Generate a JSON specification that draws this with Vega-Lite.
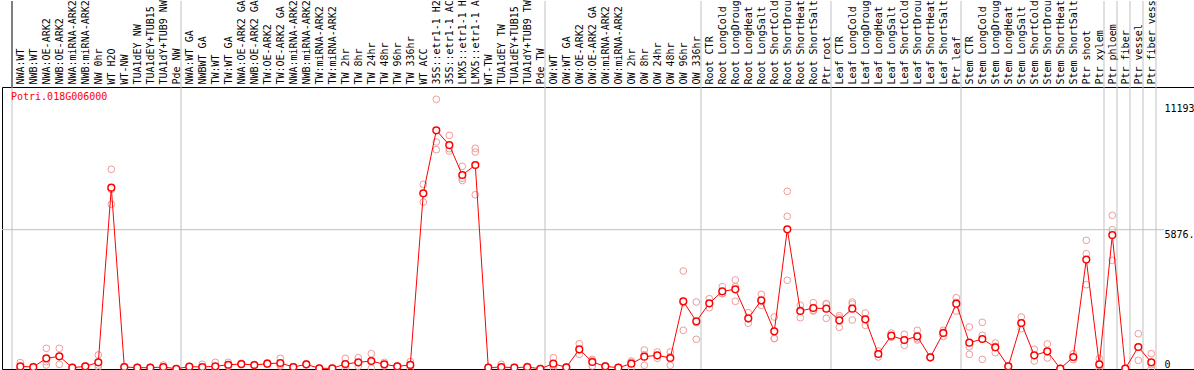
{
  "$schema": "https://vega.github.io/schema/vega-lite/v6.json",
  "padding": {"left": 1, "right": 1, "top": 0, "bottom": 2},
  "background": "white",
  "spacing": 0,
  "bounds": "flush",
  "config": {"view": {"stroke": "black", "strokeWidth": 1}, "font": "DejaVu Sans Mono"},
  "datasets": {
    "groups": [{"b": 0}, {"b": 13}, {"b": 41}, {"b": 53}, {"b": 63}, {"b": 73}, {"b": 84}, {"b": 85}, {"b": 86}, {"b": 87}, {"b": 88}],
    "samples": [
      {"i": 0, "label": "NWA:WT", "mean": 110, "r1": 270, "r2": 60, "r3": 0},
      {"i": 1, "label": "NWB:WT", "mean": 83, "r1": 60, "r2": 90, "r3": 100},
      {"i": 2, "label": "NWA:OE-ARK2", "mean": 450, "r1": 872, "r2": 310, "r3": 169},
      {"i": 3, "label": "NWB:OE-ARK2", "mean": 535, "r1": 872, "r2": 536, "r3": 197},
      {"i": 4, "label": "NWA:miRNA-ARK2", "mean": 55, "r1": 40, "r2": 60, "r3": 65},
      {"i": 5, "label": "NWB:miRNA-ARK2", "mean": 114, "r1": 90, "r2": 120, "r3": 132},
      {"i": 6, "label": "NW 0hr", "mean": 281, "r1": 591, "r2": 169, "r3": 83},
      {"i": 7, "label": "WT H2O", "mean": 7648, "r1": 8424, "r2": 7573, "r3": 6947},
      {"i": 8, "label": "WT-NW", "mean": 84, "r1": 60, "r2": 90, "r3": 102},
      {"i": 9, "label": "TUA1dEY NW", "mean": 55, "r1": 40, "r2": 55, "r3": 70},
      {"i": 10, "label": "TUA1dEY+TUB15", "mean": 55, "r1": 40, "r2": 60, "r3": 65},
      {"i": 11, "label": "TUA1dY+TUB9 NW", "mean": 84, "r1": 169, "r2": 50, "r3": 33},
      {"i": 12, "label": "Pde NW", "mean": 10, "r1": 5, "r2": 10, "r3": 15},
      {"i": 13, "label": "NWA:WT GA", "mean": 100, "r1": 110, "r2": 100, "r3": 90},
      {"i": 14, "label": "NWBWT GA", "mean": 84, "r1": 200, "r2": 30, "r3": 22},
      {"i": 15, "label": "TW:WT", "mean": 114, "r1": 283, "r2": 40, "r3": 19},
      {"i": 16, "label": "TW:WT GA", "mean": 180, "r1": 281, "r2": 150, "r3": 109},
      {"i": 17, "label": "NWA:OE-ARK2 GA", "mean": 210, "r1": 240, "r2": 210, "r3": 180},
      {"i": 18, "label": "NWB:OE-ARK2 GA", "mean": 169, "r1": 190, "r2": 170, "r3": 147},
      {"i": 19, "label": "TW:OE-ARK2", "mean": 225, "r1": 260, "r2": 220, "r3": 195},
      {"i": 20, "label": "TW:OE-ARK2 GA", "mean": 253, "r1": 450, "r2": 180, "r3": 129},
      {"i": 21, "label": "NWA:miRNA-ARK2", "mean": 84, "r1": 100, "r2": 84, "r3": 68},
      {"i": 22, "label": "NWB:miRNA-ARK2", "mean": 197, "r1": 230, "r2": 190, "r3": 171},
      {"i": 23, "label": "TW:miRNA-ARK2", "mean": 28, "r1": 40, "r2": 28, "r3": 16},
      {"i": 24, "label": "TW:miRNA-ARK2", "mean": 28, "r1": 40, "r2": 28, "r3": 16},
      {"i": 25, "label": "TW 2hr", "mean": 211, "r1": 450, "r2": 155, "r3": 28},
      {"i": 26, "label": "TW 8hr", "mean": 281, "r1": 478, "r2": 253, "r3": 112},
      {"i": 27, "label": "TW 24hr", "mean": 337, "r1": 647, "r2": 336, "r3": 28},
      {"i": 28, "label": "TW 48hr", "mean": 197, "r1": 281, "r2": 180, "r3": 130},
      {"i": 29, "label": "TW 96hr", "mean": 112, "r1": 130, "r2": 112, "r3": 94},
      {"i": 30, "label": "TW 336hr", "mean": 170, "r1": 309, "r2": 170, "r3": 31},
      {"i": 31, "label": "WT ACC", "mean": 7411, "r1": 7791, "r2": 7398, "r3": 7044},
      {"i": 32, "label": "35S::etr1-1 H2", "mean": 10068, "r1": 11376, "r2": 9575, "r3": 9253},
      {"i": 33, "label": "35S::etr1-1 AC", "mean": 9448, "r1": 9857, "r2": 9292, "r3": 9195},
      {"i": 34, "label": "LMX5::etr1-1 H", "mean": 8183, "r1": 8550, "r2": 8046, "r3": 7953},
      {"i": 35, "label": "LMX5::etr1-1 A", "mean": 8605, "r1": 9309, "r2": 9153, "r3": 7353},
      {"i": 36, "label": "WT-TW", "mean": 55, "r1": 70, "r2": 55, "r3": 40},
      {"i": 37, "label": "TUA1dEY TW", "mean": 84, "r1": 197, "r2": 35, "r3": 20},
      {"i": 38, "label": "TUA1dEY+TUB15", "mean": 55, "r1": 70, "r2": 55, "r3": 40},
      {"i": 39, "label": "TUA1dY+TUB9 TW", "mean": 84, "r1": 110, "r2": 84, "r3": 58},
      {"i": 40, "label": "Pde TW", "mean": 10, "r1": 15, "r2": 10, "r3": 5},
      {"i": 41, "label": "OW:WT", "mean": 225, "r1": 478, "r2": 142, "r3": 55},
      {"i": 42, "label": "OW:WT GA", "mean": 70, "r1": 90, "r2": 70, "r3": 50},
      {"i": 43, "label": "OW:OE-ARK2", "mean": 830, "r1": 1068, "r2": 803, "r3": 619},
      {"i": 44, "label": "OW:OE-ARK2 GA", "mean": 295, "r1": 408, "r2": 350, "r3": 127},
      {"i": 45, "label": "OW:miRNA-ARK2", "mean": 112, "r1": 140, "r2": 100, "r3": 96},
      {"i": 46, "label": "OW:miRNA-ARK2", "mean": 55, "r1": 70, "r2": 55, "r3": 40},
      {"i": 47, "label": "OW 2hr", "mean": 225, "r1": 337, "r2": 283, "r3": 55},
      {"i": 48, "label": "OW 8hr", "mean": 520, "r1": 802, "r2": 603, "r3": 155},
      {"i": 49, "label": "OW 24hr", "mean": 577, "r1": 717, "r2": 564, "r3": 450},
      {"i": 50, "label": "OW 48hr", "mean": 464, "r1": 717, "r2": 520, "r3": 155},
      {"i": 51, "label": "OW 96hr", "mean": 2855, "r1": 4134, "r2": 2799, "r3": 1632},
      {"i": 52, "label": "OW 336hr", "mean": 2011, "r1": 2826, "r2": 1955, "r3": 1252},
      {"i": 53, "label": "Root CTR", "mean": 2771, "r1": 2966, "r2": 2760, "r3": 2587},
      {"i": 54, "label": "Root LongCold", "mean": 3277, "r1": 3473, "r2": 3180, "r3": 3178},
      {"i": 55, "label": "Root LongDroug", "mean": 3361, "r1": 3754, "r2": 3474, "r3": 2855},
      {"i": 56, "label": "Root LongHeat", "mean": 2138, "r1": 2375, "r2": 2111, "r3": 1928},
      {"i": 57, "label": "Root LongSalt", "mean": 2898, "r1": 3150, "r2": 2857, "r3": 2687},
      {"i": 58, "label": "Root ShortCold", "mean": 1590, "r1": 2193, "r2": 1282, "r3": 1295},
      {"i": 59, "label": "Root ShortDrou", "mean": 5893, "r1": 7495, "r2": 6441, "r3": 3743},
      {"i": 60, "label": "Root ShortHeat", "mean": 2446, "r1": 2687, "r2": 2487, "r3": 2164},
      {"i": 61, "label": "Root ShortSalt", "mean": 2573, "r1": 2797, "r2": 2476, "r3": 2446},
      {"i": 62, "label": "Ptr root", "mean": 2545, "r1": 2755, "r2": 2742, "r3": 2138},
      {"i": 63, "label": "Leaf CTR", "mean": 2054, "r1": 2250, "r2": 2154, "r3": 1758},
      {"i": 64, "label": "Leaf LongCold", "mean": 2545, "r1": 2826, "r2": 2742, "r3": 2067},
      {"i": 65, "label": "Leaf LongDroug", "mean": 2096, "r1": 2362, "r2": 2083, "r3": 1843},
      {"i": 66, "label": "Leaf LongHeat", "mean": 633, "r1": 759, "r2": 634, "r3": 506},
      {"i": 67, "label": "Leaf LongSalt", "mean": 1406, "r1": 1518, "r2": 1350, "r3": 1350},
      {"i": 68, "label": "Leaf ShortCold", "mean": 1223, "r1": 1462, "r2": 1209, "r3": 998},
      {"i": 69, "label": "Leaf ShortDrou", "mean": 1378, "r1": 1631, "r2": 1280, "r3": 1223},
      {"i": 70, "label": "Leaf ShortHeat", "mean": 492, "r1": 520, "r2": 490, "r3": 466},
      {"i": 71, "label": "Leaf ShortSalt", "mean": 1518, "r1": 1631, "r2": 1545, "r3": 1378},
      {"i": 72, "label": "Ptr leaf", "mean": 2755, "r1": 3009, "r2": 2810, "r3": 2446},
      {"i": 73, "label": "Stem CTR", "mean": 1110, "r1": 1772, "r2": 939, "r3": 619},
      {"i": 74, "label": "Stem LongCold", "mean": 1265, "r1": 1968, "r2": 1420, "r3": 408},
      {"i": 75, "label": "Stem LongDroug", "mean": 914, "r1": 1097, "r2": 956, "r3": 689},
      {"i": 76, "label": "Stem LongHeat", "mean": 112, "r1": 140, "r2": 106, "r3": 90},
      {"i": 77, "label": "Stem LongSalt", "mean": 1940, "r1": 2193, "r2": 1926, "r3": 1701},
      {"i": 78, "label": "Stem ShortCold", "mean": 577, "r1": 830, "r2": 564, "r3": 337},
      {"i": 79, "label": "Stem ShortDrou", "mean": 745, "r1": 1054, "r2": 717, "r3": 464},
      {"i": 80, "label": "Stem ShortHeat", "mean": 14, "r1": 20, "r2": 12, "r3": 10},
      {"i": 81, "label": "Stem ShortSalt", "mean": 506, "r1": 647, "r2": 477, "r3": 394},
      {"i": 82, "label": "Ptr shoot", "mean": 4617, "r1": 5428, "r2": 4865, "r3": 3557},
      {"i": 83, "label": "Ptr xylem", "mean": 197, "r1": 436, "r2": 141, "r3": 14},
      {"i": 84, "label": "Ptr phloem", "mean": 5648, "r1": 6483, "r2": 5877, "r3": 4584},
      {"i": 85, "label": "Ptr fiber", "mean": 14, "r1": 40, "r2": 2, "r3": 0},
      {"i": 86, "label": "Ptr vessel", "mean": 928, "r1": 1490, "r2": 928, "r3": 366},
      {"i": 87, "label": "Ptr fiber vess", "mean": 281, "r1": 647, "r2": 182, "r3": 14}
    ]
  },
  "vconcat": [
    {
      "width": 1192,
      "height": 86,
      "view": {"stroke": null},
      "layer": [
        {
          "data": {"name": "groups"},
          "mark": {"type": "rule", "xOffset": -8.3, "strokeWidth": 1},
          "encoding": {
            "x": {"field": "b", "type": "quantitative", "scale": {"domain": [-1.408, 90.285], "nice": false, "zero": false}, "axis": null},
            "color": {"condition": {"test": "datum.b == 0", "value": "black"}, "value": "#c0c0c0"}
          }
        },
        {
          "data": {"name": "samples"},
          "mark": {"type": "text", "angle": 270, "align": "left", "baseline": "middle", "dx": 2.5, "dy": 1, "font": "DejaVu Sans Mono", "fontSize": 10, "color": "black"},
          "encoding": {
            "x": {"field": "i", "type": "quantitative", "scale": {"domain": [-1.408, 90.285], "nice": false, "zero": false}, "axis": null},
            "y": {"value": "height"},
            "text": {"field": "label", "type": "nominal"}
          }
        }
      ]
    },
    {
      "width": 1192,
      "height": 282,
      "title": {"text": "Potri.018G006000", "anchor": "start", "frame": "group", "orient": "top", "offset": -15, "baseline": "top", "dx": 9, "color": "#ff0000", "font": "DejaVu Sans Mono", "fontSize": 10, "fontWeight": "normal"},
      "layer": [
        {
          "data": {"name": "groups"},
          "mark": {"type": "rule", "xOffset": -8.3, "strokeWidth": 1, "color": "#c0c0c0"},
          "encoding": {
            "x": {"field": "b", "type": "quantitative", "scale": {"domain": [-1.408, 90.285], "nice": false, "zero": false}, "axis": null}
          }
        },
        {
          "data": {"values": [{"midline": 5876.5}]},
          "mark": {"type": "rule", "strokeWidth": 1, "color": "#c0c0c0"},
          "encoding": {
            "x": {"datum": -1.408, "type": "quantitative", "scale": {"domain": [-1.408, 90.285], "nice": false, "zero": false}, "axis": null},
            "x2": {"datum": 88},
            "y": {"field": "midline", "type": "quantitative", "scale": {"domain": [0, 11896], "nice": false, "zero": true}}
          }
        },
        {
          "data": {"name": "samples"},
          "transform": [
            {"fold": ["r1", "r2", "r3"], "as": ["rep", "val"]},
            {"filter": "datum.val != null"}
          ],
          "mark": {"type": "point", "shape": "circle", "filled": false, "size": 45, "strokeWidth": 1, "color": "#f09a9a", "opacity": 1},
          "encoding": {
            "x": {"field": "i", "type": "quantitative", "scale": {"domain": [-1.408, 90.285], "nice": false, "zero": false}, "axis": null},
            "y": {"field": "val", "type": "quantitative", "scale": {"domain": [0, 11896], "nice": false, "zero": true},
              "axis": {"orient": "right", "offset": -30, "values": [0, 5876.5, 11193], "ticks": false, "domain": false, "labelPadding": 0, "labelAlign": "left",
                "labelBaseline": {"condition": {"test": "datum.value == 0", "value": "bottom"}, "value": "top"},
                "labelFont": "DejaVu Sans Mono", "labelFontSize": 10, "labelColor": "black", "labelFlush": false, "labelOverlap": false, "labelBound": false,
                "labelExpr": "datum.value == 0 ? '0' : (datum.value > 10000 ? '11193' : '5876.')",
                "grid": false, "title": null}}
          }
        },
        {
          "data": {"name": "samples"},
          "mark": {"type": "line", "color": "#ff0000", "strokeWidth": 1},
          "encoding": {
            "x": {"field": "i", "type": "quantitative", "scale": {"domain": [-1.408, 90.285], "nice": false, "zero": false}, "axis": null},
            "y": {"field": "mean", "type": "quantitative", "scale": {"domain": [0, 11896], "nice": false, "zero": true}}
          }
        },
        {
          "data": {"name": "samples"},
          "mark": {"type": "point", "shape": "circle", "filled": true, "fill": "white", "stroke": "#ff0000", "strokeWidth": 1.5, "size": 45, "opacity": 1},
          "encoding": {
            "x": {"field": "i", "type": "quantitative", "scale": {"domain": [-1.408, 90.285], "nice": false, "zero": false}, "axis": null},
            "y": {"field": "mean", "type": "quantitative", "scale": {"domain": [0, 11896], "nice": false, "zero": true}}
          }
        }
      ]
    }
  ]
}
